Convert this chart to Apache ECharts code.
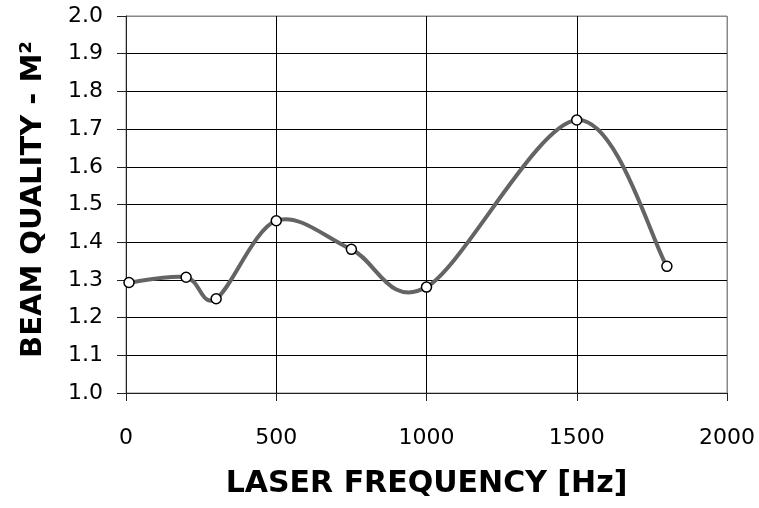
<!DOCTYPE html>
<html>
<head>
<meta charset="utf-8">
<script src="https://cdn.jsdelivr.net/npm/echarts@6/dist/echarts.min.js"></script>
<style>
  html, body { margin: 0; padding: 0; background: #fff; }
  #chart { width: 759px; height: 508px; }
</style>
</head>
<body>
<div id="chart"></div>
<script>
// Data
var frequencies = [10, 200, 300, 500, 750, 1000, 1500, 1800];      // Hz
var beamQuality = [1.293, 1.307, 1.250, 1.457, 1.381, 1.281, 1.724, 1.336]; // M^2
var xTitle = 'LASER FREQUENCY [Hz]';
var yTitle = 'BEAM QUALITY - M\u00B2';

var points = frequencies.map(function (f, i) { return [f, beamQuality[i]]; });

var chart = echarts.init(document.getElementById('chart'), null, { renderer: 'canvas' });

var yGridColors = ['#000','#000','#000','#000','#000','#000','#000','#000','#000','#000','#888'];
var xGridColors = ['#000','#000','#000','#000','#888'];

// Excel-style smoothed line: Catmull-Rom Bezier through the data points,
// positioned through the chart's own coordinate system (api.coord).
function renderSmoothLine(params, api) {
  if (params.dataIndex !== 0) return null;
  var px = points.map(function (p) { return api.coord(p); });
  var n = px.length;
  var d = 'M' + px[0][0] + ' ' + px[0][1];
  for (var i = 0; i < n - 1; i++) {
    var p0 = px[Math.max(i - 1, 0)];
    var p1 = px[i];
    var p2 = px[i + 1];
    var p3 = px[Math.min(i + 2, n - 1)];
    var c1x = p1[0] + (p2[0] - p0[0]) / 6;
    var c1y = p1[1] + (p2[1] - p0[1]) / 6;
    var c2x = p2[0] - (p3[0] - p1[0]) / 6;
    var c2y = p2[1] - (p3[1] - p1[1]) / 6;
    d += ' C' + c1x + ' ' + c1y + ' ' + c2x + ' ' + c2y + ' ' + p2[0] + ' ' + p2[1];
  }
  return {
    type: 'path',
    shape: { pathData: d },
    style: { fill: 'none', stroke: '#646464', lineWidth: 4, lineJoin: 'round', lineCap: 'round' }
  };
}

chart.setOption({
  backgroundColor: '#fff',
  animation: false,
  grid: {
    left: 126, right: 32, top: 16, bottom: 115,
    show: true, borderColor: '#888', borderWidth: 1, backgroundColor: 'transparent'
  },
  xAxis: {
    type: 'value',
    min: 0, max: 2000, interval: 500,
    name: xTitle,
    nameLocation: 'middle',
    nameGap: 76,
    nameTextStyle: { fontFamily: 'DejaVu Sans', fontWeight: 'bold', fontSize: 30, color: '#000' },
    axisLine: { show: true, onZero: false, lineStyle: { color: '#222', width: 1 } },
    axisTick: { show: true, inside: false, length: 8, lineStyle: { color: '#222', width: 1 } },
    axisLabel: {
      fontFamily: 'DejaVu Sans', fontSize: 22, color: '#000', margin: 34,
      formatter: function (v) { return String(v); }
    },
    splitLine: { show: true, lineStyle: { color: xGridColors, width: 1 } }
  },
  yAxis: {
    type: 'value',
    min: 1.0, max: 2.0, interval: 0.1,
    name: yTitle,
    nameLocation: 'middle',
    nameGap: 78,
    nameRotate: 90,
    nameTextStyle: {
      fontFamily: 'DejaVu Sans', fontWeight: 'bold', fontSize: 29, color: '#000',
      padding: [0, 0, 0, 10]
    },
    axisLine: { show: true, onZero: false, lineStyle: { color: '#222', width: 1 } },
    axisTick: { show: true, inside: false, length: 9, lineStyle: { color: '#222', width: 1 } },
    axisLabel: {
      fontFamily: 'DejaVu Sans', fontSize: 22, color: '#000', margin: 23,
      padding: [4, 0, 0, 0],
      formatter: function (v) { return v.toFixed(1); }
    },
    splitLine: { show: true, lineStyle: { color: yGridColors, width: 1 } }
  },
  series: [{
    type: 'custom',
    data: points,
    renderItem: renderSmoothLine,
    encode: { x: 0, y: 1 },
    silent: true,
    z: 2
  }, {
    type: 'scatter',
    data: points,
    symbol: 'circle',
    symbolSize: 10,
    itemStyle: { color: '#fff', borderColor: '#000', borderWidth: 1.5, opacity: 1 },
    z: 3
  }]
});
</script>
</body>
</html>
